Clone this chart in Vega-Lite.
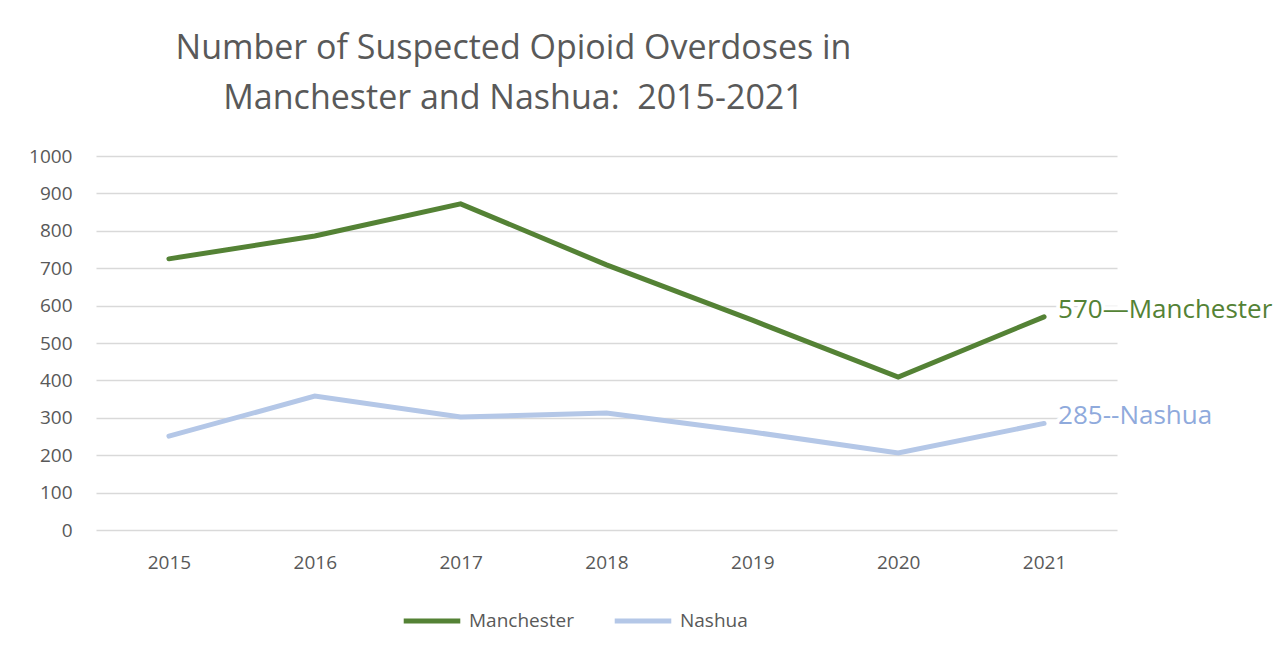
{
  "$schema": "https://vega.github.io/schema/vega-lite/v6.json",
  "autosize": {"type": "none"},
  "padding": {"left": 96, "top": 156, "right": 162, "bottom": 123},
  "width": 1021,
  "height": 374,
  "background": "white",
  "config": {
    "view": {"stroke": null},
    "font": "Open Sans"
  },
  "title": {
    "text": ["Number of Suspected Opioid Overdoses in", "Manchester and Nashua:\u00a0\u00a02015-2021"],
    "font": "Open Sans",
    "fontSize": 34,
    "fontWeight": "normal",
    "color": "#595959",
    "anchor": "middle",
    "dx": -93,
    "offset": 31,
    "lineHeight": 50
  },
  "data": {
    "values": [
      {"year": "2015", "city": "Manchester", "count": 725},
      {"year": "2016", "city": "Manchester", "count": 786},
      {"year": "2017", "city": "Manchester", "count": 872},
      {"year": "2018", "city": "Manchester", "count": 709},
      {"year": "2019", "city": "Manchester", "count": 561},
      {"year": "2020", "city": "Manchester", "count": 409},
      {"year": "2021", "city": "Manchester", "count": 570, "label": "570\u2014Manchester"},
      {"year": "2015", "city": "Nashua", "count": 251},
      {"year": "2016", "city": "Nashua", "count": 358},
      {"year": "2017", "city": "Nashua", "count": 302},
      {"year": "2018", "city": "Nashua", "count": 313},
      {"year": "2019", "city": "Nashua", "count": 262},
      {"year": "2020", "city": "Nashua", "count": 206},
      {"year": "2021", "city": "Nashua", "count": 285, "label": "285--Nashua"}
    ]
  },
  "encoding": {
    "x": {
      "field": "year",
      "type": "ordinal",
      "scale": {"type": "point", "padding": 0.5},
      "axis": {
        "title": null,
        "labelAngle": 0,
        "domain": false,
        "ticks": false,
        "labelPadding": 23,
        "labelFont": "Open Sans",
        "labelFontSize": 19,
        "labelColor": "#595959"
      }
    },
    "y": {
      "field": "count",
      "type": "quantitative",
      "scale": {"domain": [0, 1000]},
      "axis": {
        "title": null,
        "values": [0, 100, 200, 300, 400, 500, 600, 700, 800, 900, 1000],
        "format": "d",
        "domain": false,
        "ticks": false,
        "labelPadding": 24,
        "labelFont": "Open Sans",
        "labelFontSize": 19,
        "labelColor": "#595959",
        "gridColor": "#d9d9d9",
        "gridWidth": 1.5
      }
    }
  },
  "layer": [
    {
      "mark": {"type": "line", "strokeWidth": 5, "strokeCap": "round"},
      "encoding": {
        "color": {
          "field": "city",
          "type": "nominal",
          "scale": {"domain": ["Manchester", "Nashua"], "range": ["#548235", "#b4c7e7"]},
          "legend": {
            "title": null,
            "orient": "none",
            "direction": "horizontal",
            "legendX": 305,
            "legendY": 434,
            "symbolType": "stroke",
            "symbolSize": 3200,
            "symbolStrokeWidth": 5,
            "labelFont": "Open Sans",
            "labelFontSize": 19,
            "labelColor": "#595959",
            "columnPadding": 30,
            "labelOffset": 6
          }
        }
      }
    },
    {
      "transform": [{"filter": "datum.label != null"}],
      "mark": {"type": "text", "align": "left", "baseline": "middle", "dx": 14, "dy": -7, "font": "Open Sans", "fontSize": 26, "stroke": "white", "strokeWidth": 8, "color": "white"},
      "encoding": {
        "text": {"field": "label"}
      }
    },
    {
      "transform": [{"filter": "datum.label != null"}],
      "mark": {"type": "text", "align": "left", "baseline": "middle", "dx": 14, "dy": -7, "font": "Open Sans", "fontSize": 26},
      "encoding": {
        "text": {"field": "label"},
        "color": {
          "field": "city",
          "type": "nominal",
          "scale": {"domain": ["Manchester", "Nashua"], "range": ["#548235", "#8faadc"]},
          "legend": null
        }
      }
    }
  ],
  "resolve": {"scale": {"color": "independent"}}
}
